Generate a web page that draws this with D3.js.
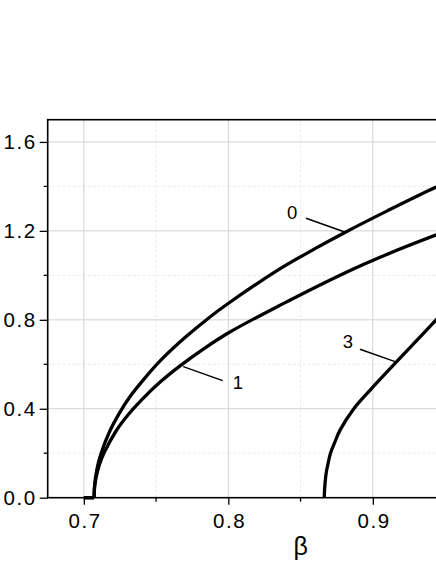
<!DOCTYPE html>
<html>
<head>
<meta charset="utf-8" />
<title>beta curves</title>
<style>
body { margin: 0; background: #fff; }
svg { display: block; font-family: "Liberation Sans", Arial, sans-serif; }
.grid-major { stroke: #d2d2d2; stroke-width: 1; }
.grid-minor { stroke: #ebebeb; stroke-width: 1; stroke-dasharray: 3,2; }
.curve { fill: none; stroke: #000; stroke-width: 3.3; stroke-linejoin: round; }
.leader { stroke: #000; stroke-width: 1.5; }
</style>
</head>
<body>
<div id="chart"></div>
<script src="https://d3js.org/d3.v7.min.js"></script>
<script>
// values (beta, value)
var curve0 = [
  [0.700, 0], [0.7071, 0], [0.7074, 0.05], [0.7083, 0.10], [0.7100, 0.155],
  [0.7121, 0.2025], [0.7180, 0.30], [0.7241, 0.375], [0.7320, 0.455], [0.7412, 0.53],
  [0.7528, 0.615], [0.7700, 0.72], [0.7873, 0.813], [0.7989, 0.869], [0.8359, 1.03],
  [0.860, 1.12], [0.881, 1.194], [0.910, 1.29], [0.944, 1.397], [0.960, 1.44]
];
var curve1 = [
  [0.700, 0], [0.7071, 0], [0.7075, 0.05], [0.7088, 0.10], [0.7109, 0.15],
  [0.7141, 0.2025], [0.7223, 0.30], [0.7308, 0.374], [0.7400, 0.44], [0.7528, 0.52],
  [0.7666, 0.593], [0.7842, 0.675], [0.8005, 0.743], [0.8359, 0.866], [0.881, 1.012],
  [0.910, 1.095], [0.944, 1.182], [0.960, 1.22]
];
var curve3 = [
  [0.8664, 0], [0.8666, 0.035], [0.8677, 0.11], [0.8689, 0.15], [0.8707, 0.20],
  [0.8737, 0.25], [0.8774, 0.305], [0.8866, 0.398], [0.8983, 0.485], [0.9142, 0.596],
  [0.9417, 0.785], [0.955, 0.88]
];
var curves = [curve0, curve1, curve3];

// label text, text position, leader start, leader end (data units)
var labelText = ['0', '1', '3'];
var labelPos = [[0.8441, 1.283], [0.8067, 0.516], [0.8828, 0.7007]];
var leaderFrom = [[0.8538, 1.257], [0.7961, 0.5266], [0.8911, 0.668]];
var leaderTo = [[0.881, 1.194], [0.7688, 0.5896], [0.9154, 0.612]];

var xTicks = [0.7, 0.8, 0.9];
var xMinor = [0.75, 0.85, 0.95];
var yTicks = [0.0, 0.4, 0.8, 1.2, 1.6];
var yMinor = [0.2, 0.6, 1.0, 1.4];
var xTitle = 'β';

var width = 436, height = 564;
var mLeft = 47.7, mTop = 119.7, mBottom = 497.7;
var x = d3.scaleLinear().domain([0.675, 1.025]).range([mLeft, mLeft + 0.35 * 1445]);
var y = d3.scaleLinear().domain([0, 1.7]).range([mBottom, mTop]);
var mRight = x.range()[1];

var svg = d3.select('#chart').append('svg')
  .attr('width', width).attr('height', height);

svg.append('rect').attr('width', width).attr('height', height).attr('fill', '#fff');

var plot = svg.append('g');

// grid
plot.selectAll('.gxm').data(xMinor).enter().append('line')
  .attr('class', 'grid-minor')
  .attr('x1', function(d) { return x(d); }).attr('x2', function(d) { return x(d); })
  .attr('y1', mTop).attr('y2', mBottom);
plot.selectAll('.gym').data(yMinor).enter().append('line')
  .attr('class', 'grid-minor')
  .attr('x1', mLeft).attr('x2', mRight)
  .attr('y1', function(d) { return y(d); }).attr('y2', function(d) { return y(d); });
plot.selectAll('.gx').data(xTicks).enter().append('line')
  .attr('class', 'grid-major')
  .attr('x1', function(d) { return x(d); }).attr('x2', function(d) { return x(d); })
  .attr('y1', mTop).attr('y2', mBottom);
plot.selectAll('.gy').data(yTicks.slice(1)).enter().append('line')
  .attr('class', 'grid-major')
  .attr('x1', mLeft).attr('x2', mRight)
  .attr('y1', function(d) { return y(d); }).attr('y2', function(d) { return y(d); });

// curves: flat part on the axis drawn straight, the rising part smoothed
var rise = d3.line()
  .x(function(d) { return x(d[0]); })
  .y(function(d) { return y(d[1]); })
  .curve(d3.curveCatmullRom.alpha(0.5));
var straight = d3.line()
  .x(function(d) { return x(d[0]); })
  .y(function(d) { return y(d[1]); });

curves.forEach(function(c) {
  var start = 0;
  if (c[0][1] === 0 && c[1][1] === 0) {
    plot.append('path').attr('class', 'curve').attr('d', straight(c.slice(0, 2)));
    start = 1;
  }
  plot.append('path').attr('class', 'curve').attr('d', rise(c.slice(start)));
});

// leaders and labels
plot.selectAll('.leader').data(leaderFrom).enter().append('line')
  .attr('class', 'leader')
  .attr('x1', function(d) { return x(d[0]); })
  .attr('y1', function(d) { return y(d[1]); })
  .attr('x2', function(d, i) { return x(leaderTo[i][0]); })
  .attr('y2', function(d, i) { return y(leaderTo[i][1]); });

plot.selectAll('.lab').data(labelPos).enter().append('text')
  .attr('x', function(d) { return x(d[0]); })
  .attr('y', function(d) { return y(d[1]); })
  .attr('dy', '0.35em')
  .attr('text-anchor', 'middle')
  .style('font-size', '18.5px')
  .text(function(d, i) { return labelText[i]; });

// axes
var xAxis = d3.axisBottom(x).tickValues(xTicks).tickSize(7).tickPadding(9)
  .tickFormat(d3.format('.1f'));
var yAxis = d3.axisLeft(y).tickValues(yTicks).tickSize(8).tickPadding(3)
  .tickFormat(d3.format('.1f'));

var gx = svg.append('g').attr('transform', 'translate(0,' + mBottom + ')').call(xAxis);
var gy = svg.append('g').attr('transform', 'translate(' + mLeft + ',0)').call(yAxis);
[gx, gy].forEach(function(g) {
  g.select('.domain').remove();
  g.selectAll('.tick line').attr('stroke', '#000').attr('stroke-width', 1.3);
  g.selectAll('.tick text').attr('fill', '#000')
    .attr('font-size', 20.5).attr('letter-spacing', 1.6)
    .attr('font-family', '"Liberation Sans", Arial, sans-serif');
});
gx.selectAll('.tick text').attr('dx', 0.8);

// minor ticks
svg.selectAll('.mx').data(xMinor).enter().append('line')
  .attr('x1', function(d) { return x(d); }).attr('x2', function(d) { return x(d); })
  .attr('y1', mBottom).attr('y2', mBottom + 4)
  .attr('stroke', '#000').attr('stroke-width', 1.3);
svg.selectAll('.my').data(yMinor).enter().append('line')
  .attr('x1', mLeft - 4).attr('x2', mLeft)
  .attr('y1', function(d) { return y(d); }).attr('y2', function(d) { return y(d); })
  .attr('stroke', '#000').attr('stroke-width', 1.3);

// frame
svg.append('rect')
  .attr('x', mLeft).attr('y', mTop)
  .attr('width', mRight - mLeft).attr('height', mBottom - mTop)
  .attr('fill', 'none').attr('stroke', '#000').attr('stroke-width', 1.6);

svg.append('text')
  .attr('x', (mLeft + mRight) / 2).attr('y', 555)
  .attr('text-anchor', 'middle')
  .style('font-size', '25px')
  .text(xTitle);
</script>
</body>
</html>
